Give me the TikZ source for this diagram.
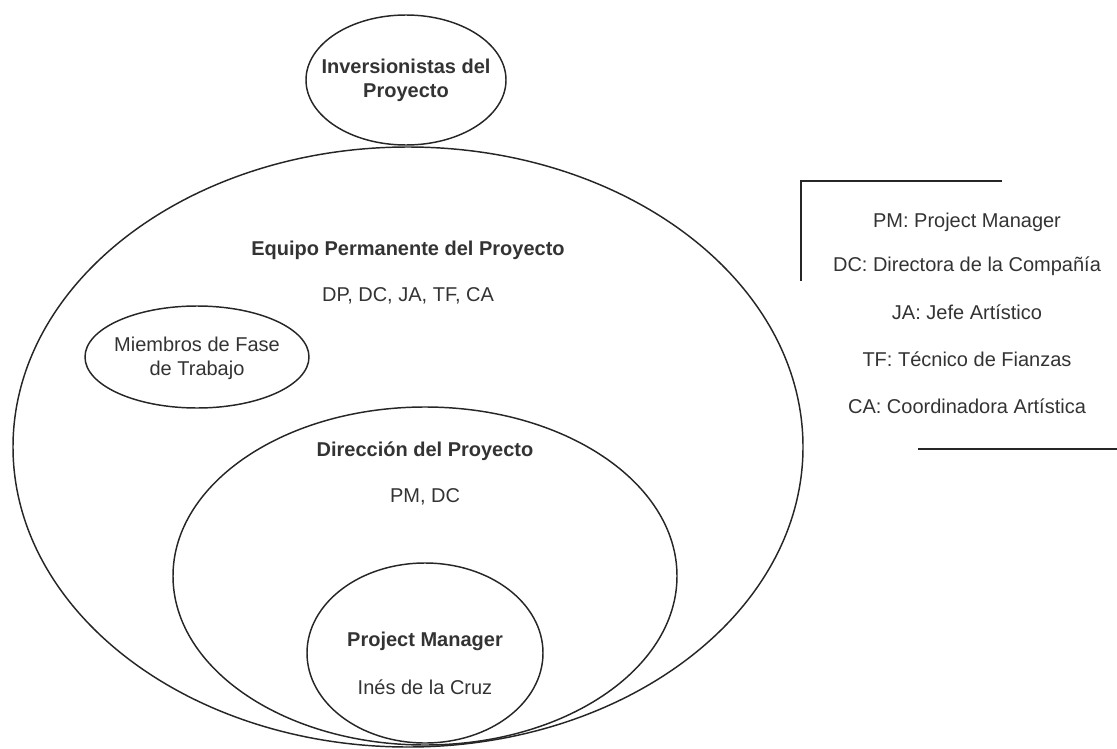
\documentclass[tikz,border=0pt]{standalone}
\usepackage{fontspec}
\setmainfont{Liberation Sans}
\usetikzlibrary{shapes.geometric}
\begin{document}
\begin{tikzpicture}[x=0.75pt,y=-0.75pt,
  ring/.style={draw=black!85, line width=1.1pt, ellipse, inner sep=0pt},
  lbl/.style={font=\fontsize{15pt}{18pt}\selectfont, text=black!80, inner sep=0pt, align=center},
  lblb/.style={lbl, font=\fontsize{15pt}{18pt}\selectfont\bfseries},
  rule/.style={draw=black!85, line width=1.1pt}]
\useasboundingbox (0,0) rectangle (1117,749);

% nested circles of the project organisation
\node[ring, minimum width=790*0.75pt, minimum height=600*0.75pt] (equipo) at (408,447) {};
\node[ring, minimum width=200*0.75pt, minimum height=130*0.75pt] (inv) at (406,80) {};
\node[ring, minimum width=224*0.75pt, minimum height=102*0.75pt] (miembros) at (197,357) {};
\node[ring, minimum width=504*0.75pt, minimum height=338*0.75pt] (direccion) at (425,576) {};
\node[ring, minimum width=236*0.75pt, minimum height=180*0.75pt] (pm) at (425,653) {};

% labels
\node[lblb] (tinv) at (inv.center) {Inversionistas del\\Proyecto};
\node[lblb] (tequipo) at (408,250) {Equipo Permanente del Proyecto};
\node[lbl] (tequipo2) at (408,296) {DP, DC, JA, TF, CA};
\node[lbl] (tmiembros) at (197,358) {Miembros de Fase\\de Trabajo};
\node[lblb] (tdir) at (425,451) {Dirección del Proyecto};
\node[lbl] (tdir2) at (425,497) {PM, DC};
\node[lblb] (tpm) at (425,641) {Project Manager};
\node[lbl] (tpm2) at (425,687) {Inés de la Cruz};

% legend with its bracket lines
\coordinate (la) at (801,181);
\coordinate (lb) at (1002,181);
\coordinate (lc) at (801,281);
\coordinate (ld) at (918,449);
\coordinate (le) at (1117,449);
\draw[rule] (lb) -- (la) -- (lc);
\draw[rule] (ld) -- (le);

\node[lbl] (k1) at (967,222) {PM: Project Manager};
\node[lbl] (k2) at (967,266) {DC: Directora de la Compañía};
\node[lbl] (k3) at (967,312) {JA: Jefe Artístico};
\node[lbl] (k4) at (967,359) {TF: Técnico de Fianzas};
\node[lbl] (k5) at (967,406) {CA: Coordinadora Artística};
\end{tikzpicture}
\end{document}
